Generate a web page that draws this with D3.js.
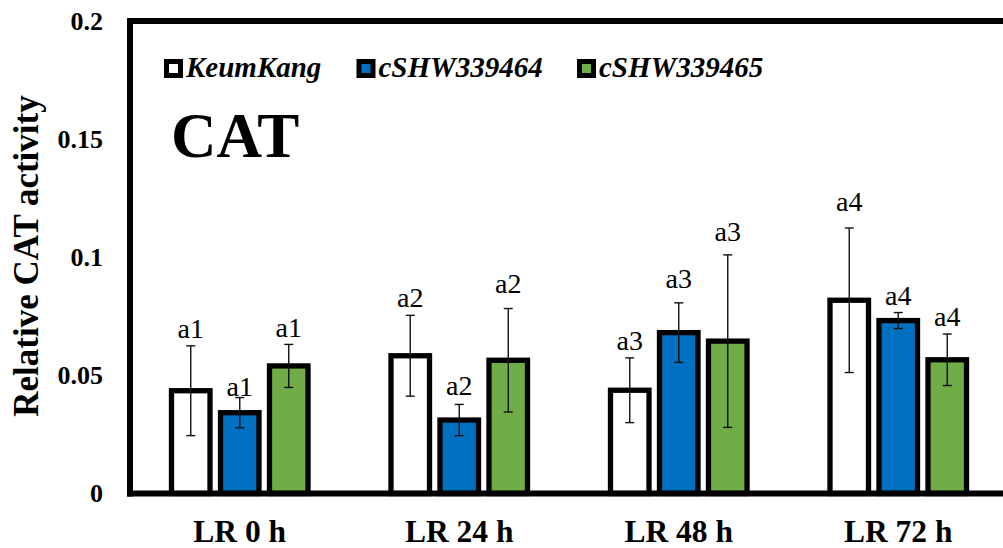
<!DOCTYPE html>
<html>
<head>
<meta charset="utf-8">
<script src="https://cdn.jsdelivr.net/npm/d3@7"></script>
<style>
  html, body { margin: 0; padding: 0; background: #fff; }
  svg { display: block; }
  svg text { font-family: "Liberation Serif", Tinos, "Times New Roman", Times, "DejaVu Serif", serif; }
</style>
</head>
<body>
<svg id="chart" width="1003" height="548"></svg>
<script>
// Sampling times
const categories = ["LR 0 h", "LR 24 h", "LR 48 h", "LR 72 h"];
// Lines compared
const seriesNames = ["KeumKang", "cSHW339464", "cSHW339465"];
// Mean relative CAT activity
const keumKang   = [0.0435, 0.0583, 0.0437, 0.0818];
const cshw339464 = [0.0342, 0.0311, 0.0681, 0.0732];
const cshw339465 = [0.0540, 0.0564, 0.0645, 0.0566];
// Standard deviations
const keumKangErr   = [0.0190, 0.0171, 0.0137, 0.0306];
const cshw339464Err = [0.0064, 0.0066, 0.0126, 0.0034];
const cshw339465Err = [0.0091, 0.0219, 0.0365, 0.0109];
// Significance letters per sampling time
const letters = [
  ["a1", "a1", "a1"],
  ["a2", "a2", "a2"],
  ["a3", "a3", "a3"],
  ["a4", "a4", "a4"]
];
// Y axis ticks
const yTicks = [0, 0.05, 0.1, 0.15, 0.2];
const yTickLabels = ["0", "0.05", "0.1", "0.15", "0.2"];

const means = [keumKang, cshw339464, cshw339465];
const errs = [keumKangErr, cshw339464Err, cshw339465Err];
const fills = ["#ffffff", "#0070C0", "#70AD47"];
const serif = "'Liberation Serif', Tinos, 'Times New Roman', Times, 'DejaVu Serif', serif";

// Layout
const plotLeft = 130, plotTop = 21, plotBottom = 493.5, plotRight = 1008;
// Extra lift (px) of each letter above its error bar
const letterLift = [[8, 2, 7], [8, 9, 16], [8, 15, 14], [17, 8, 8]];

const svg = d3.select("#chart").attr("font-family", serif);

const y = d3.scaleLinear().domain([0, 0.2]).range([plotBottom, plotTop]);
const x = d3.scaleBand().domain(categories).range([plotLeft, plotRight]).padding(0);
const xs = d3.scaleBand().domain(seriesNames)
  .range([x.bandwidth() / 2 - 73.5, x.bandwidth() / 2 + 73.5])
  .paddingInner(0.214).paddingOuter(0.107);

const rows = [];
categories.forEach((c, i) => {
  seriesNames.forEach((s, j) => {
    rows.push({ cat: c, ser: s, i, j, v: means[j][i], e: errs[j][i], lab: letters[i][j], fill: fills[j] });
  });
});

// Bars
svg.append("g").selectAll("rect").data(rows).join("rect")
  .attr("x", d => x(d.cat) + xs(d.ser))
  .attr("y", d => y(d.v))
  .attr("width", xs.bandwidth())
  .attr("height", d => y(0) - y(d.v))
  .attr("fill", d => d.fill)
  .attr("stroke", "#000")
  .attr("stroke-width", 5.3);

// Error bars
const eg = svg.append("g").attr("stroke", "#111").attr("stroke-width", 1.4).attr("fill", "none");
rows.forEach(d => {
  const cx = x(d.cat) + xs(d.ser) + xs.bandwidth() / 2;
  const y1 = y(d.v + d.e), y2 = y(d.v - d.e);
  eg.append("line").attr("x1", cx).attr("x2", cx).attr("y1", y1).attr("y2", y2);
  eg.append("line").attr("x1", cx - 4.5).attr("x2", cx + 4.5).attr("y1", y1).attr("y2", y1);
  eg.append("line").attr("x1", cx - 4.5).attr("x2", cx + 4.5).attr("y1", y2).attr("y2", y2);
});

// Significance letters
svg.append("g").selectAll("text").data(rows).join("text")
  .attr("x", d => x(d.cat) + xs(d.ser) + xs.bandwidth() / 2)
  .attr("y", d => y(d.v + d.e) - letterLift[d.i][d.j])
  .attr("text-anchor", "middle")
  .attr("font-family", serif)
  .attr("font-size", 28)
  .attr("fill", "#000")
  .text(d => d.lab);

// Frame lines
const frame = svg.append("g").attr("stroke", "#000").attr("stroke-width", 6).attr("stroke-linecap", "square");
frame.append("line").attr("x1", plotLeft).attr("x2", 1010).attr("y1", plotTop).attr("y2", plotTop);
frame.append("line").attr("x1", plotLeft).attr("x2", plotLeft).attr("y1", plotTop).attr("y2", plotBottom);
frame.append("line").attr("x1", plotLeft).attr("x2", 1010).attr("y1", plotBottom).attr("y2", plotBottom);

// Y axis labels
const yAxis = d3.axisLeft(y).tickValues(yTicks)
  .tickFormat((d, i) => yTickLabels[i]).tickSize(0).tickPadding(27);
const yg = svg.append("g").attr("transform", `translate(${plotLeft},0)`).call(yAxis)
  .attr("font-family", serif);
yg.select(".domain").remove();
yg.selectAll("text").attr("font-size", 26).attr("font-weight", "bold")
  .attr("font-family", serif).attr("fill", "#000");

// X axis labels
const xAxis = d3.axisBottom(x).tickSize(0).tickPadding(26);
const xg = svg.append("g").attr("transform", `translate(0,${plotBottom})`).call(xAxis)
  .attr("font-family", serif);
xg.select(".domain").remove();
xg.selectAll("text").attr("font-size", 31.5).attr("font-weight", "bold")
  .attr("font-family", serif).attr("fill", "#000");

// Y axis title
svg.append("text")
  .attr("transform", "translate(38,256) rotate(-90)")
  .attr("text-anchor", "middle")
  .attr("font-family", serif)
  .attr("font-size", 35).attr("font-weight", "bold")
  .text("Relative CAT activity");

// Panel title
svg.append("text")
  .attr("x", 171).attr("y", 157)
  .attr("font-family", serif)
  .attr("font-size", 63).attr("font-weight", "bold")
  .text("CAT");

// Legend
const legendX = [173.5, 366, 586.5];
const lg = svg.append("g");
seriesNames.forEach((s, j) => {
  lg.append("rect")
    .attr("x", legendX[j] - 7).attr("y", 68.5 - 7)
    .attr("width", 14).attr("height", 14)
    .attr("fill", fills[j]).attr("stroke", "#000").attr("stroke-width", 5);
  lg.append("text")
    .attr("x", legendX[j] + 12.5).attr("y", 77)
    .attr("font-family", serif)
    .attr("font-size", 29).attr("font-weight", "bold").attr("font-style", "italic")
    .text(s);
});
</script>
</body>
</html>
